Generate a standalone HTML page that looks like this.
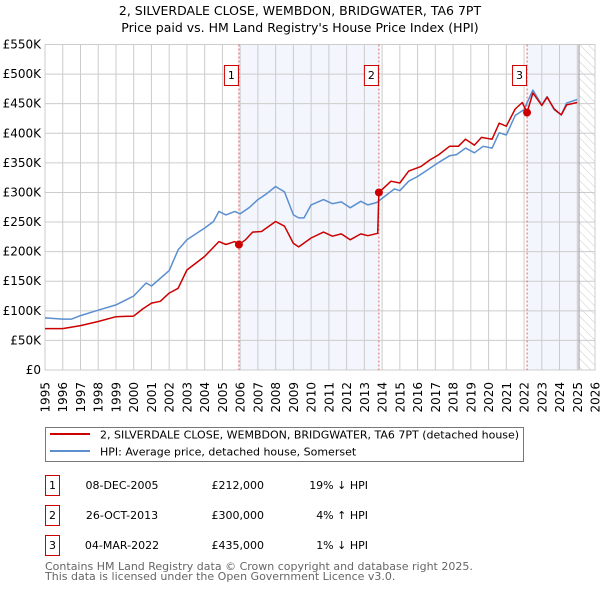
<!DOCTYPE html>
<html><head><meta charset="utf-8">
<style>
body{margin:0;background:#fff;width:600px;height:590px;overflow:hidden;font-family:"DejaVu Sans","Liberation Sans",sans-serif}
svg text{font-family:"DejaVu Sans","Liberation Sans",sans-serif}
</style></head>
<body>
<svg id="chart" width="600" height="590" xmlns="http://www.w3.org/2000/svg">
<text x="300" y="15" text-anchor="middle" font-size="12.5" fill="#000">2, SILVERDALE CLOSE, WEMBDON, BRIDGWATER, TA6 7PT</text>
<text x="300" y="32" text-anchor="middle" font-size="12.5" fill="#000">Price paid vs. HM Land Registry's House Price Index (HPI)</text>
<g id="plot"></g>
<g>
<rect x="45.5" y="427.5" width="478" height="34" fill="#fff" stroke="#777"/>
<line x1="50" y1="434" x2="90" y2="434" stroke="#cc0000" stroke-width="2"/>
<text x="100" y="438.5" font-size="11">2, SILVERDALE CLOSE, WEMBDON, BRIDGWATER, TA6 7PT (detached house)</text>
<line x1="50" y1="451" x2="90" y2="451" stroke="#5b8fd0" stroke-width="2"/>
<text x="100" y="455.5" font-size="11">HPI: Average price, detached house, Somerset</text>
</g>
<g font-size="11">
<rect x="45.5" y="475.5" width="14" height="20" fill="#fff" stroke="#cc0000"/>
<text x="52.5" y="489" text-anchor="middle">1</text>
<text x="122" y="489" text-anchor="middle">08-DEC-2005</text>
<text x="264" y="489" text-anchor="end">£212,000</text>
<text x="368" y="489" text-anchor="end">19% ↓ HPI</text>
<rect x="45.5" y="505.5" width="14" height="20" fill="#fff" stroke="#cc0000"/>
<text x="52.5" y="519" text-anchor="middle">2</text>
<text x="122" y="519" text-anchor="middle">26-OCT-2013</text>
<text x="264" y="519" text-anchor="end">£300,000</text>
<text x="368" y="519" text-anchor="end">4% ↑ HPI</text>
<rect x="45.5" y="535.5" width="14" height="20" fill="#fff" stroke="#cc0000"/>
<text x="52.5" y="549" text-anchor="middle">3</text>
<text x="122" y="549" text-anchor="middle">04-MAR-2022</text>
<text x="264" y="549" text-anchor="end">£435,000</text>
<text x="368" y="549" text-anchor="end">1% ↓ HPI</text>
</g>
<text x="45" y="570" font-size="11" fill="#666">Contains HM Land Registry data © Crown copyright and database right 2025.</text>
<text x="45" y="580" font-size="11" fill="#666">This data is licensed under the Open Government Licence v3.0.</text>
</svg>
<script>
const yTicks=[0,50000,100000,150000,200000,250000,300000,350000,400000,450000,500000,550000];
const yTickLabels=["£0","£50K","£100K","£150K","£200K","£250K","£300K","£350K","£400K","£450K","£500K","£550K"];
const xYears=[1995,1996,1997,1998,1999,2000,2001,2002,2003,2004,2005,2006,2007,2008,2009,2010,2011,2012,2013,2014,2015,2016,2017,2018,2019,2020,2021,2022,2023,2024,2025,2026];
const hpiDates=[1995,1996,1996.5,1997,1998,1999,2000,2000.7,2001,2002,2002.5,2003,2004,2004.5,2004.8,2005.2,2005.7,2006,2006.5,2007,2007.5,2008,2008.5,2009,2009.3,2009.6,2010,2010.7,2011.2,2011.7,2012.2,2012.8,2013.2,2013.7,2014,2014.7,2015,2015.5,2016,2016.7,2017.2,2017.8,2018.2,2018.7,2019.2,2019.7,2020.2,2020.6,2021,2021.5,2022,2022.5,2023,2023.3,2023.7,2024.1,2024.4,2025];
const hpiValues=[88000,86000,86000,92000,101000,110000,125000,147000,142000,168000,203000,220000,240000,251000,268000,262000,268000,264000,274000,288000,298000,310000,301000,262000,257000,257000,279000,288000,281000,284000,274000,285000,279000,283000,290000,306000,303000,319000,327000,341000,351000,362000,364000,375000,367000,378000,375000,401000,397000,430000,440000,473000,448000,462000,440000,431000,451000,457000];
const priceDates=[1995,1996,1997,1998,1999,2000,2000.5,2001,2001.5,2002,2002.5,2003,2004,2004.8,2005.2,2005.7,2005.93,2006.3,2006.7,2007.2,2008,2008.5,2009,2009.3,2010,2010.7,2011.2,2011.7,2012.2,2012.8,2013.2,2013.75,2013.82,2014.5,2015,2015.5,2016.2,2016.7,2017.2,2017.8,2018.3,2018.7,2019.2,2019.6,2020.2,2020.6,2021,2021.5,2021.9,2022.17,2022.5,2023,2023.3,2023.7,2024.1,2024.4,2025];
const priceValues=[70000,70000,75000,82000,90000,91000,103000,113000,116000,130000,138000,169000,192000,217000,212000,217000,212000,220000,233000,234000,251000,243000,214000,208000,223000,233000,226000,230000,220000,230000,227000,231000,300000,319000,316000,336000,344000,355000,364000,378000,378000,390000,380000,393000,390000,417000,412000,441000,452000,435000,468000,447000,461000,441000,431000,448000,452000];
const saleDates=[2005.93,2013.82,2022.17];
const salePrices=[212000,300000,435000];
const saleLabels=["1","2","3"];
const dataEnd=2025.1;

const X0=45,X1=595,Y0=370,Y1=44.5;
const xs=y=>X0+(y-1995)/(2026-1995)*(X1-X0);
const ys=v=>Y0-v/550000*(Y0-Y1);
const NS="http://www.w3.org/2000/svg";
const g=document.getElementById('plot');
function mk(t,a){const e=document.createElementNS(NS,t);for(const k in a)e.setAttribute(k,a[k]);g.appendChild(e);return e;}
let e=mk('rect',{x:xs(saleDates[0]),y:Y1,width:xs(saleDates[1])-xs(saleDates[0]),height:Y0-Y1,fill:'#f3f6fd'});


e=mk('rect',{x:xs(saleDates[2]),y:Y1,width:xs(dataEnd)-xs(saleDates[2]),height:Y0-Y1,fill:'#f3f6fd'});


const defs=mk('defs',{});
defs.innerHTML='<pattern id="hatch" width="6" height="6" patternUnits="userSpaceOnUse" patternTransform="rotate(-45)"><line x1="0" y1="0" x2="0" y2="6" stroke="#ccc" stroke-width="1"/></pattern>';
e=mk('rect',{x:xs(dataEnd),y:Y1,width:X1-xs(dataEnd),height:Y0-Y1,fill:'url(#hatch)'});


yTicks.forEach((v,i)=>{
 const l=mk('line',{x1:X0,x2:X1,y1:ys(v),y2:ys(v),stroke:'#ccc','stroke-width':1});
 
 
 const t=mk('text',{x:X0-4,y:ys(v)+4,'text-anchor':'end','font-size':12,fill:'#000'});
 t.textContent=yTickLabels[i];
 
 
});
xYears.forEach(yr=>{
 const l=mk('line',{x1:xs(yr),x2:xs(yr),y1:Y1,y2:Y0,stroke:'#ccc','stroke-width':1});
 
 
 const t=mk('text',{x:0,y:0,'text-anchor':'end','font-size':12,fill:'#000',transform:`translate(${xs(yr)+4.5},382) rotate(-90)`});
 t.textContent=String(yr);
 
 
});
e=mk('line',{x1:xs(dataEnd),x2:xs(dataEnd),y1:Y1,y2:Y0,stroke:'#999','stroke-width':1});


e=mk('rect',{x:X0,y:Y1,width:X1-X0,height:Y0-Y1,fill:'none',stroke:'#ccc'});


saleDates.forEach((d,i)=>{
 const l=mk('line',{x1:xs(d),x2:xs(d),y1:Y1,y2:Y0,stroke:'#e06060','stroke-width':1,'stroke-dasharray':'2,2'});
 
 
 const b=mk('rect',{x:xs(d)-14.5,y:65.5,width:14,height:20,fill:'#fff',stroke:'#cc0000'});
 
 
 const t=mk('text',{x:xs(d)-7.5,y:79,'text-anchor':'middle','font-size':11});
 t.textContent=saleLabels[i];
 
 
});
function path(ds,vs){return ds.map((d,i)=>(i?'L':'M')+xs(d).toFixed(1)+','+ys(vs[i]).toFixed(1)).join('');}
e=mk('path',{d:path(hpiDates,hpiValues),fill:'none',stroke:'#5b8fd0','stroke-width':1.5,'stroke-linejoin':'round'});


e=mk('path',{d:path(priceDates,priceValues),fill:'none',stroke:'#cc0000','stroke-width':1.5,'stroke-linejoin':'round'});


saleDates.forEach((d,i)=>{
 const c=mk('circle',{cx:xs(d),cy:ys(salePrices[i]),r:4,fill:'#cc0000'});
 
 
});
</script>
</body></html>
